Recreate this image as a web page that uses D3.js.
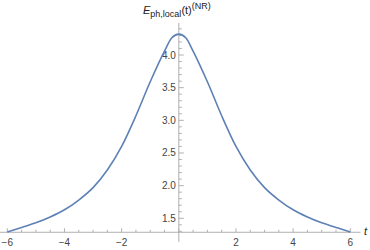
<!DOCTYPE html>
<html>
<head>
<meta charset="utf-8">
<script src="https://cdn.jsdelivr.net/npm/d3@7"></script>
<style>
  body { margin: 0; background: #fff; }
  text { font-family: "Liberation Sans", Arial, sans-serif; }
</style>
</head>
<body>
<svg id="vis" width="370" height="250"></svg>
<script>
// values
var tValues = [-6, -5.5, -5, -4.5, -4, -3.5, -3, -2.5, -2, -1.5, -1, -0.5, -0.25,
               0, 0.25, 0.5, 1, 1.5, 2, 2.5, 3, 3.5, 4, 4.5, 5, 5.5, 6];
var eValues = [1.29, 1.36, 1.43, 1.52, 1.63, 1.78, 1.97, 2.24, 2.60, 3.07, 3.59, 4.06, 4.26,
               4.32, 4.26, 4.06, 3.59, 3.07, 2.60, 2.24, 1.97, 1.78, 1.63, 1.52, 1.43, 1.36, 1.29];
var xTicks = [-6, -4, -2, 2, 4, 6];
var yTicks = [1.5, 2.0, 2.5, 3.0, 3.5, 4.0];

var svg = d3.select("#vis");

//scales
var x = d3.scaleLinear()
    .domain([-6, 6])
    .range([7.3, 350.3]);
var y = d3.scaleLinear()
    .domain([1.5, 4.0])
    .range([218.3, 55]);

var axisColor = "#b0b0b0";
var labelColor = "#444";
var yBottom = 1.286, yTop = 4.49;
var x0 = x(0), y0 = y(yBottom);

// x axis
svg.append("line")
    .attr("x1", x(-6.26)).attr("x2", x(6.36))
    .attr("y1", y0).attr("y2", y0)
    .attr("stroke", axisColor);

// y axis
svg.append("line")
    .attr("x1", x0).attr("x2", x0)
    .attr("y1", y0 + 9.5).attr("y2", y(yTop))
    .attr("stroke", axisColor);

// x ticks, minor every 0.5
var xMinor = d3.range(-6, 6.01, 0.5);
svg.append("g").selectAll("line")
    .data(xMinor)
    .enter().append("line")
    .attr("x1", function(d) {return x(d);})
    .attr("x2", function(d) {return x(d);})
    .attr("y1", y0)
    .attr("y2", function(d) {return Math.abs(d % 2) < 1e-9 ? y0 - 4 : y0 - 2.5;})
    .attr("stroke", axisColor);

svg.append("g").selectAll("text")
    .data(xTicks)
    .enter().append("text")
    .text(function(d) {return d < 0 ? "\u2212" + (-d) : d;})
    .attr("x", function(d) {return x(d);})
    .attr("y", 246)
    .attr("text-anchor", "middle")
    .attr("font-size", 10)
    .attr("fill", labelColor);

// y ticks, minor every 0.1
var yMinor = d3.range(13, 45).map(function(i) {return i / 10;});
svg.append("g").selectAll("line")
    .data(yMinor)
    .enter().append("line")
    .attr("x1", x0)
    .attr("x2", function(d) {return Math.round(d * 10) % 5 == 0 ? x0 + 5 : x0 + 3;})
    .attr("y1", function(d) {return y(d);})
    .attr("y2", function(d) {return y(d);})
    .attr("stroke", axisColor);

svg.append("g").selectAll("text")
    .data(yTicks)
    .enter().append("text")
    .text(function(d) {return d.toFixed(1);})
    .attr("x", x0 - 3)
    .attr("y", function(d) {return y(d);})
    .attr("dy", "0.35em")
    .attr("text-anchor", "end")
    .attr("font-size", 10)
    .attr("fill", labelColor);

// curve
var pts = tValues.map(function(t, i) {return [t, eValues[i]];});
var line = d3.line()
    .x(function(d) {return x(d[0]);})
    .y(function(d) {return y(d[1]);})
    .curve(d3.curveMonotoneX);

svg.append("path")
    .datum(pts)
    .attr("d", line)
    .attr("fill", "none")
    .attr("stroke", "#5e81b5")
    .attr("stroke-width", 1.6);

// axis labels
var yl = svg.append("text")
    .attr("x", 143)
    .attr("y", 14)
    .attr("font-size", 11)
    .attr("fill", "#222");
yl.append("tspan").text("E").attr("font-style", "italic");
yl.append("tspan").text("ph,local").attr("font-size", 9).attr("dy", 3);
yl.append("tspan").text("(t)").attr("dy", -3);
yl.append("tspan").text("(NR)").attr("font-size", 9).attr("dy", -5);

svg.append("text")
    .text("t")
    .attr("x", 364)
    .attr("y", 235)
    .attr("font-size", 11)
    .attr("font-style", "italic")
    .attr("fill", "#222");
</script>
</body>
</html>
